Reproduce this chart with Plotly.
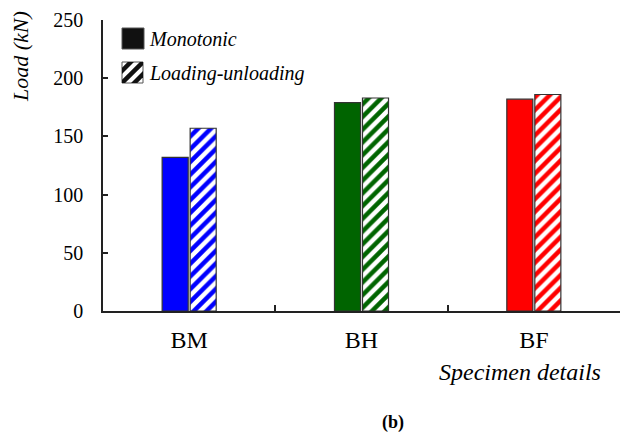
import plotly.graph_objects as go

# Peak load per specimen (kN)
categories = ["BM", "BH", "BF"]
monotonic = [132, 179, 182]
loading_unloading = [157, 183, 186]
bar_colors = ["#0000ff", "#006400", "#ff0000"]

W, H = 628, 436
L, R, T, B = 103, 8, 20, 125
PW, PH = W - L - R, H - T - B
FONT = "Liberation Serif"


def px(x):
    return (x - L) / PW


def py(y):
    return (H - B - y) / PH


fig = go.Figure()
fig.add_trace(go.Bar(
    x=categories, y=monotonic, name="Monotonic",
    marker=dict(color=bar_colors, line=dict(color="#333333", width=1.2)),
))
fig.add_trace(go.Bar(
    x=categories, y=loading_unloading, name="Loading-unloading",
    marker=dict(
        color="white",
        line=dict(color="#333333", width=1.2),
        pattern=dict(shape="/", size=9, solidity=0.5,
                     fgcolor=bar_colors, bgcolor="white", fillmode="replace"),
    ),
))


def clip(poly, a, b, c):
    """Keep the part of poly where a*u + b*v <= c."""
    out = []
    n = len(poly)
    for i in range(n):
        p, q = poly[i], poly[(i + 1) % n]
        fp = a * p[0] + b * p[1] - c
        fq = a * q[0] + b * q[1] - c
        if fp <= 0:
            out.append(p)
        if (fp < 0 < fq) or (fq < 0 < fp):
            t = fp / (fp - fq)
            out.append((p[0] + t * (q[0] - p[0]), p[1] + t * (q[1] - p[1])))
    return out


shapes = []
# Legend swatch: solid
shapes.append(dict(type="rect", xref="paper", yref="paper",
                   x0=px(122), x1=px(144), y0=py(49), y1=py(28),
                   fillcolor="#111111", line=dict(color="#555555", width=1)))
# Legend swatch: hatched
sx0, sy1, s = 122, 83, 21
shapes.append(dict(type="rect", xref="paper", yref="paper",
                   x0=px(sx0), x1=px(sx0 + s), y0=py(sy1), y1=py(sy1 - s),
                   fillcolor="white", line=dict(color="#555555", width=1)))
for cen in (-0.58 * s, 0.0, 0.58 * s):
    lo, hi = cen - 0.15 * s, cen + 0.15 * s
    poly = [(0, 0), (s, 0), (s, s), (0, s)]
    poly = clip(poly, -1, 1, hi)
    poly = clip(poly, 1, -1, -lo)
    if len(poly) < 3:
        continue
    pts = [(px(sx0 + u), py(sy1 - v)) for u, v in poly]
    path = "M" + " L".join(f"{a:.5f},{b:.5f}" for a, b in pts) + " Z"
    shapes.append(dict(type="path", xref="paper", yref="paper", path=path,
                       fillcolor="#111111", line=dict(width=0)))

annotations = [
    dict(text="<i>Monotonic</i>", x=px(147), y=py(39), xref="paper", yref="paper",
         xanchor="left", yanchor="middle", showarrow=False,
         font=dict(family=FONT, size=20, color="black")),
    dict(text="<i>Loading-unloading</i>", x=px(147), y=py(73), xref="paper", yref="paper",
         xanchor="left", yanchor="middle", showarrow=False,
         font=dict(family=FONT, size=20, color="black")),
    dict(text="<i>Load (kN)</i>", x=px(20), y=py(57), xref="paper", yref="paper",
         xanchor="center", yanchor="middle", textangle=-90, showarrow=False,
         font=dict(family=FONT, size=22, color="black")),
    dict(text="<i>Specimen details</i>", x=px(520), y=py(372), xref="paper", yref="paper",
         xanchor="center", yanchor="middle", showarrow=False,
         font=dict(family=FONT, size=24, color="black")),
    dict(text="<b>(b)</b>", x=px(393), y=py(422), xref="paper", yref="paper",
         xanchor="center", yanchor="middle", showarrow=False,
         font=dict(family=FONT, size=18, color="black")),
]

fig.update_layout(
    width=W, height=H,
    margin=dict(l=L, r=R, t=T, b=B, pad=0),
    paper_bgcolor="white", plot_bgcolor="white",
    font=dict(family=FONT, color="black"),
    barmode="group", bargap=0.675, bargroupgap=0.07,
    showlegend=False,
    shapes=shapes, annotations=annotations,
    xaxis=dict(
        range=[-0.5, 2.5], showline=True, linecolor="#222222", linewidth=1.5,
        ticks="inside", tickson="boundaries", ticklen=6, tickwidth=1.5, tickcolor="#222222",
        showgrid=False, zeroline=False,
        tickfont=dict(family=FONT, size=24, color="black"), ticklabelstandoff=6,
    ),
    yaxis=dict(
        range=[0, 250], tickvals=[0, 50, 100, 150, 200, 250],
        showline=True, linecolor="#222222", linewidth=1.5,
        ticks="inside", ticklen=5, tickwidth=1.5, tickcolor="#222222",
        showgrid=False, zeroline=False,
        tickfont=dict(family=FONT, size=20, color="black"), ticklabelstandoff=14,
    ),
)

fig.write_html("out.html")
